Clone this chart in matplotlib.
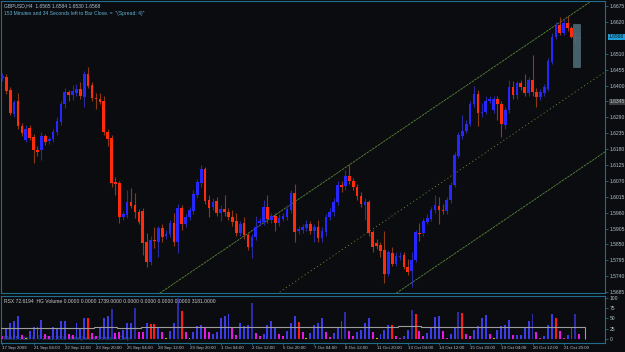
import numpy as np
import matplotlib
matplotlib.use('Agg')
import matplotlib.pyplot as plt
from matplotlib.patches import Rectangle

# GBPUSD H4 candles
opens = [1.6426, 1.6430, 1.6385, 1.6302, 1.6347, 1.6260, 1.6212, 1.6253, 1.6222, 1.6177,
         1.6177, 1.6225, 1.6208, 1.6215, 1.6239, 1.6274, 1.6336, 1.6378, 1.6367, 1.6374,
         1.6388, 1.6360, 1.6440, 1.6402, 1.6357, 1.6353, 1.6347, 1.6239, 1.6219, 1.6066,
         1.6063, 1.5945, 1.5952, 1.5997, 1.5987, 1.5962, 1.5966, 1.5859, 1.5790, 1.5866,
         1.5859, 1.5907, 1.5880, 1.5887, 1.5924, 1.5859, 1.5976, 1.5921, 1.5945, 1.5966,
         1.6021, 1.6063, 1.6111, 1.6004, 1.5980, 1.6001, 1.5959, 1.5973, 1.5962, 1.5945,
         1.5931, 1.5890, 1.5924, 1.5883, 1.5842, 1.5876, 1.5924, 1.5928, 1.5980, 1.5935,
         1.5949, 1.5924, 1.5938, 1.5945, 1.5969, 1.6028, 1.5897, 1.5900, 1.5907, 1.5921,
         1.5897, 1.5911, 1.5873, 1.5893, 1.5945, 1.5962, 1.5997, 1.6056, 1.6052, 1.6087,
         1.6070, 1.6049, 1.6018, 1.5987, 1.5997, 1.5893, 1.5855, 1.5848, 1.5831, 1.5748,
         1.5821, 1.5783, 1.5807, 1.5814, 1.5772, 1.5758, 1.5796, 1.5890, 1.5890, 1.5928,
         1.5938, 1.5969, 1.5983, 1.5969, 1.5966, 1.6004, 1.6056, 1.6156, 1.6225, 1.6243,
         1.6267, 1.6336, 1.6371, 1.6305, 1.6308, 1.6347, 1.6315, 1.6353, 1.6336, 1.6264,
         1.6315, 1.6395, 1.6367, 1.6409, 1.6395, 1.6374, 1.6419, 1.6378, 1.6360, 1.6374,
         1.6388, 1.6481, 1.6568, 1.6610, 1.6582, 1.6616, 1.6599, 1.6568, 1.6565]
highs = [1.6445, 1.6440, 1.6395, 1.6350, 1.6374, 1.6270, 1.6262, 1.6265, 1.6232, 1.6190,
         1.6240, 1.6232, 1.6222, 1.6250, 1.6290, 1.6345, 1.6392, 1.6385, 1.6402, 1.6405,
         1.6412, 1.6450, 1.6464, 1.6412, 1.6375, 1.6374, 1.6365, 1.6250, 1.6230, 1.6085,
         1.6070, 1.5965, 1.6039, 1.6045, 1.6028, 1.5972, 1.5975, 1.5890, 1.5880, 1.5911,
         1.5915, 1.5920, 1.5900, 1.5935, 1.5959, 1.5990, 1.5985, 1.5955, 1.5980, 1.6040,
         1.6075, 1.6125, 1.6118, 1.6020, 1.6010, 1.6015, 1.5985, 1.6020, 1.5975, 1.5969,
         1.5958, 1.5930, 1.5945, 1.5890, 1.5885, 1.5950, 1.5940, 1.6004, 1.6020, 1.5960,
         1.5960, 1.5955, 1.5960, 1.5985, 1.6040, 1.6060, 1.5915, 1.5920, 1.5935, 1.5930,
         1.5920, 1.5935, 1.5910, 1.5955, 1.5975, 1.6010, 1.6070, 1.6070, 1.6108, 1.6130,
         1.6080, 1.6060, 1.6030, 1.6010, 1.6005, 1.5900, 1.5869, 1.5860, 1.5895, 1.5830,
         1.5842, 1.5825, 1.5825, 1.5825, 1.5800, 1.5824, 1.5900, 1.5924, 1.5940, 1.5955,
         1.5980, 1.6021, 1.6014, 1.5990, 1.6015, 1.6065, 1.6170, 1.6240, 1.6298, 1.6280,
         1.6345, 1.6398, 1.6385, 1.6340, 1.6365, 1.6365, 1.6362, 1.6365, 1.6345, 1.6325,
         1.6420, 1.6416, 1.6415, 1.6420, 1.6440, 1.6430, 1.6506, 1.6390, 1.6388, 1.6405,
         1.6495, 1.6580, 1.6620, 1.6637, 1.6630, 1.6641, 1.6606, 1.6590, 1.6584]
lows = [1.6415, 1.6372, 1.6298, 1.6290, 1.6250, 1.6226, 1.6205, 1.6210, 1.6132, 1.6155,
        1.6142, 1.6195, 1.6198, 1.6205, 1.6230, 1.6265, 1.6322, 1.6345, 1.6350, 1.6364,
        1.6354, 1.6326, 1.6390, 1.6348, 1.6320, 1.6335, 1.6230, 1.6190, 1.6050, 1.6021,
        1.5925, 1.5935, 1.5940, 1.5975, 1.5940, 1.5920, 1.5814, 1.5772, 1.5778, 1.5838,
        1.5808, 1.5860, 1.5870, 1.5875, 1.5845, 1.5821, 1.5900, 1.5910, 1.5935, 1.5955,
        1.6010, 1.6050, 1.5990, 1.5945, 1.5970, 1.5950, 1.5930, 1.5950, 1.5935, 1.5915,
        1.5880, 1.5880, 1.5870, 1.5830, 1.5803, 1.5865, 1.5915, 1.5918, 1.5925, 1.5925,
        1.5895, 1.5915, 1.5930, 1.5935, 1.5960, 1.5860, 1.5885, 1.5890, 1.5895, 1.5885,
        1.5860, 1.5860, 1.5860, 1.5880, 1.5935, 1.5950, 1.5985, 1.6030, 1.6040, 1.6060,
        1.6040, 1.6005, 1.5980, 1.5935, 1.5880, 1.5825, 1.5835, 1.5808, 1.5717, 1.5740,
        1.5775, 1.5775, 1.5795, 1.5765, 1.5745, 1.5703, 1.5790, 1.5862, 1.5880, 1.5920,
        1.5930, 1.5960, 1.5920, 1.5955, 1.5955, 1.5995, 1.6050, 1.6150, 1.6215, 1.6235,
        1.6260, 1.6325, 1.6260, 1.6290, 1.6300, 1.6340, 1.6305, 1.6281, 1.6222, 1.6250,
        1.6305, 1.6355, 1.6355, 1.6385, 1.6365, 1.6365, 1.6364, 1.6326, 1.6350, 1.6365,
        1.6380, 1.6475, 1.6560, 1.6575, 1.6575, 1.6590, 1.6565, 1.6540, 1.6530]
closes = [1.6433, 1.6381, 1.6305, 1.6343, 1.6260, 1.6236, 1.6250, 1.6219, 1.6177, 1.6170,
          1.6225, 1.6205, 1.6215, 1.6239, 1.6277, 1.6336, 1.6378, 1.6367, 1.6381, 1.6388,
          1.6364, 1.6440, 1.6398, 1.6357, 1.6353, 1.6343, 1.6239, 1.6215, 1.6063, 1.6059,
          1.5945, 1.5956, 1.5997, 1.5983, 1.5962, 1.5928, 1.5855, 1.5790, 1.5866, 1.5862,
          1.5907, 1.5876, 1.5887, 1.5924, 1.5859, 1.5976, 1.5921, 1.5945, 1.5969, 1.6025,
          1.6066, 1.6111, 1.6001, 1.5976, 1.5997, 1.5959, 1.5973, 1.5962, 1.5945, 1.5928,
          1.5890, 1.5921, 1.5883, 1.5842, 1.5876, 1.5911, 1.5931, 1.5980, 1.5938, 1.5949,
          1.5924, 1.5942, 1.5949, 1.5973, 1.6028, 1.5893, 1.5904, 1.5911, 1.5921, 1.5897,
          1.5911, 1.5873, 1.5897, 1.5945, 1.5962, 1.5997, 1.6056, 1.6049, 1.6087, 1.6070,
          1.6049, 1.6018, 1.5990, 1.5997, 1.5890, 1.5842, 1.5845, 1.5828, 1.5748, 1.5824,
          1.5783, 1.5810, 1.5810, 1.5772, 1.5755, 1.5796, 1.5893, 1.5887, 1.5931, 1.5942,
          1.5969, 1.5987, 1.5969, 1.5966, 1.6004, 1.6056, 1.6160, 1.6229, 1.6243, 1.6267,
          1.6336, 1.6371, 1.6305, 1.6308, 1.6347, 1.6353, 1.6353, 1.6336, 1.6267, 1.6315,
          1.6395, 1.6367, 1.6409, 1.6395, 1.6374, 1.6419, 1.6378, 1.6360, 1.6378, 1.6395,
          1.6485, 1.6568, 1.6606, 1.6582, 1.6616, 1.6599, 1.6568, 1.6565, 1.6568]

# volume histogram (indicator window) and its colour codes
volume = [6, 26, 40, 44, 57, 10, 2, 20, 30, 30,
          46, 11, 6, 28, 26, 44, 43, 12, 9, 40,
          26, 52, 50, 14, 8, 30, 50, 57, 72, 14,
          16, 22, 40, 38, 75, 18, 17, 38, 37, 37,
          26, 18, 2, 20, 40, 99, 68, 18, 1, 18,
          32, 34, 26, 18, 12, 18, 50, 57, 60, 26,
          10, 40, 32, 34, 89, 14, 6, 13, 34, 44,
          30, 11, 6, 20, 40, 55, 42, 18, 1, 14,
          34, 40, 50, 16, 4, 15, 26, 44, 67, 20,
          6, 18, 22, 40, 50, 16, 2, 12, 22, 34,
          34, 6, 3, 7, 22, 71, 60, 20, 8, 15,
          26, 54, 57, 20, 3, 11, 30, 67, 63, 11,
          6, 22, 32, 52, 58, 11, 2, 22, 32, 34,
          46, 10, 10, 10, 30, 44, 62, 16, 2, 7,
          34, 60, 50, 19, 2, 10, 26, 60, 11]
vol_codes = ("MBBBBMYBBR" "BMMBBBBMMB" "BBRMMBBBDM" "MBBBDMMBRR" "BMYBBDRMYB"
             "BBMMBBBBBM" "MBBBDMMBBB" "BMMBBBRMYB" "BBBMMBBBDM" "MBBBBMYBBB"
             "RMMBBDRMMB" "BBBMMBBDRM" "MBBBBMYBBB" "BMBBBBDMMB" "BBRMMBBDM")
rsx_daily = [26, 26, 27, 26, 28, 27, 28, 29, 28, 30, 29, 30, 28, 30, 29, 30,
             30, 31, 29, 30, 28, 30, 29, 30, 28]

price_ticks = [1.6675, 1.6620, 1.6510, 1.6455, 1.6400, 1.6345, 1.6290, 1.6235,
               1.6180, 1.6125, 1.6070, 1.6015, 1.5960, 1.5905, 1.5850, 1.5795,
               1.5740, 1.5685]
date_bars = [0, 8, 16, 24, 32, 40, 48, 56, 64, 72, 80, 88, 96, 104, 112, 120, 128, 136, 144]
date_labels = ['17 Sep 2009', '21 Sep 04:00', '22 Sep 12:00', '23 Sep 20:00', '25 Sep 04:00',
               '28 Sep 12:00', '29 Sep 20:00', '1 Oct 04:00', '2 Oct 12:00', '5 Oct 20:00',
               '7 Oct 04:00', '8 Oct 12:00', '11 Oct 20:00', '13 Oct 04:00', '14 Oct 12:00',
               '15 Oct 20:00', '19 Oct 04:00', '20 Oct 12:00', '21 Oct 20:00']

# std-dev channel: middle line anchors and half width
chan_bars = [70, 147]
chan_mid = [1.5675, 1.6378]
chan_half = 0.0277

last_price = 1.6568
box_bars = [146.5, 148.3]
box_prices = [1.6464, 1.6613]

bg = '#0b0c0f'
edge = '#1f6e8d'
txt = '#b8c2cb'
fs = 3.6
plt.rcParams['font.family'] = ['Liberation Sans', 'DejaVu Sans']

fig = plt.figure(figsize=(6.25, 3.52), dpi=100, facecolor=bg)
ax = fig.add_axes([0.002, 0.1676, 0.966, 0.8296], facecolor=bg)
ax2 = fig.add_axes([0.002, 0.0256, 0.966, 0.1335], facecolor=bg)

o = np.array(opens)
h = np.array(highs)
l = np.array(lows)
c = np.array(closes)
x = np.arange(len(o))
up = c > o
body_col = np.where(up, '#2626ff', '#ff2b0c')
wick_col = np.where(up, '#2a2aa0', '#8c3a12')

# channel
slope = (chan_mid[1] - chan_mid[0]) / (chan_bars[1] - chan_bars[0])
cx = np.array([-5, 160])
mid = chan_mid[0] + slope * (cx - chan_bars[0])
green = '#5a8a3a'
ax.plot(cx, mid + chan_half, color=green, lw=0.6, ls=(0, (3, 1)), zorder=1)
ax.plot(cx, mid, color=green, lw=0.6, ls=(0, (1.5, 3)), zorder=1)
ax.plot(cx, mid - chan_half, color=green, lw=0.6, ls=(0, (3, 1)), zorder=1)

ax.vlines(x, l, h, colors=wick_col, lw=0.8, zorder=2)
ax.bar(x, np.maximum(np.abs(c - o), 0.0003), bottom=np.minimum(o, c), width=0.68,
       color=body_col, lw=0, zorder=3)

ax.add_patch(Rectangle((box_bars[0], box_prices[0]), box_bars[1] - box_bars[0],
                       box_prices[1] - box_prices[0], facecolor='#4d6a76', edgecolor='#5f7f8c',
                       lw=0.4, alpha=0.9, zorder=4))

ax.set_xlim(-0.3, 154.6)
ax.set_ylim(1.5682, 1.66925)
ax.yaxis.tick_right()
ax.set_yticks(price_ticks)
ax.set_yticklabels(['%.4f' % p for p in price_ticks])
ax.tick_params(axis='y', colors=edge, labelcolor=txt, labelsize=fs, length=2, width=0.6, pad=1.5)
ax.tick_params(axis='x', bottom=False, labelbottom=False)
for lab, p in zip(ax.get_yticklabels(), price_ticks):
    if p == 1.6345:
        lab.set_bbox(dict(facecolor='#3b3b3b', edgecolor='none', pad=0.6))
ax.annotate('%.4f' % last_price, xy=(1, last_price), xycoords=('axes fraction', 'data'),
            xytext=(2.6, 0), textcoords='offset points', va='center', ha='left',
            fontsize=fs, color='#0a1a24',
            bbox=dict(facecolor='#1e9fda', edgecolor='none', pad=0.7), annotation_clip=False)

ax.text(0.004, 0.992, 'GBPUSD,H4  1.6565 1.6584 1.6530 1.6568', transform=ax.transAxes,
        fontsize=fs, color='#a9c4d2', va='top')
ax.text(0.004, 0.964, '153 Minutes and 34 Seconds left to Bar Close. =  "(Spread: 4)"',
        transform=ax.transAxes, fontsize=fs, color='#5fb2d6', va='top')

# indicator window
vol_map = {'B': '#3b3be8', 'D': '#2c2ca6', 'M': '#e41ae4', 'R': '#ff1a1a', 'Y': '#d8b400'}
ax2.bar(np.arange(len(volume)), volume, width=0.5,
        color=[vol_map[k] for k in vol_codes], lw=0, zorder=2)
edges = np.arange(len(rsx_daily) + 1) * 6 - 0.5
ax2.stairs(rsx_daily, edges, color='#9c9c9c', lw=0.8, zorder=3)
ax2.set_xlim(-0.3, 154.6)
ax2.set_ylim(-10, 105)
ax2.yaxis.tick_right()
ax2.set_yticks([100, 75, 50, 25, 0])
ax2.set_yticklabels(['100', '75', '50', '25', '0'])
ax2.tick_params(axis='y', colors=edge, labelcolor=txt, labelsize=fs, length=2, width=0.6, pad=1.5)
ax2.set_xticks(date_bars)
ax2.set_xticklabels(date_labels, ha='left')
ax2.tick_params(axis='x', colors=edge, labelcolor=txt, labelsize=3.2, length=1.5, width=0.6, pad=1)
ax2.text(0.004, 0.93, 'RSX 72.6194  HG Volume 0.0000 0.0000 1739.0000 0.0000 0.0000 0.0000 0.0000 3181.0000',
         transform=ax2.transAxes, fontsize=fs, color='#c8ccd0', va='top')
ax2.text(0.004, 0.04, 'MetaTrader 4, \u00a9 2001-2009 MetaQuotes Software Corp.',
         transform=ax2.transAxes, fontsize=fs, color='#2f62a8', va='bottom', zorder=1)

for a in (ax, ax2):
    for s in a.spines.values():
        s.set_color(edge)
        s.set_linewidth(0.8)

fig.savefig('out.png', dpi=100, facecolor=bg)
